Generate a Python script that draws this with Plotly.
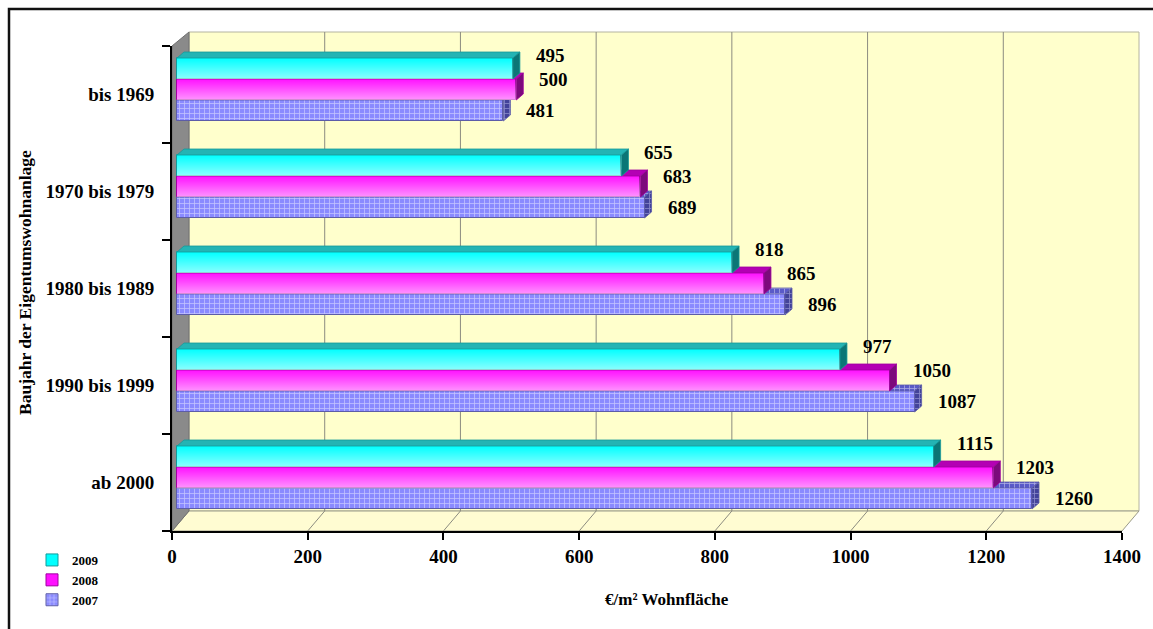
import plotly.graph_objects as go

# ---- data -------------------------------------------------------------
categories = ["ab 2000", "1990 bis 1999", "1980 bis 1989", "1970 bis 1979", "bis 1969"]
values_2007 = [1260, 1087, 896, 689, 481]
values_2008 = [1203, 1050, 865, 683, 500]
values_2009 = [1115, 977, 818, 655, 495]
x_ticks = [0, 200, 400, 600, 800, 1000, 1200, 1400]

# ---- geometry helpers (figure pixels <-> axis units) -------------------
FIG_W, FIG_H = 1153, 629
L, R, T, B = 172, 1122, 46, 531          # front plane of the plot area
W, H = R - L, B - T
X_MAX = 1400
UX = X_MAX / W                           # axis units per pixel (x)
UY = 5 / H                               # axis units per pixel (y)
DEPTH_X, DEPTH_Y = 17, 20                # wall/floor depth in pixels


def px(xp):
    return (xp - L) / W


def py(yp):
    return (B - yp) / H


def xpix(v):
    return L + v / UX


SERIF = "Liberation Serif"

# bar layout in pixels, relative to the band centre (positive = up)
BAR_H = 21
OFF = {"2009": 26, "2008": 5, "2007": -16}
LABEL_DY = {"2009": 13, "2008": 10, "2007": 0}
FRONT_SHIFT = 5                          # front face pushed back into the box
BAR_DX, BAR_DY = 7, 6                    # bar thickness in depth

series = [
    # name, values, axis, front colour, outline, top face, side face, sheen
    ("2007", values_2007, "y", "#8a8aff", "#5c5ca8", "#5a5ac8", "#43439a", False),
    ("2008", values_2008, "y2", "#ff10ff", "#a000a0", "#b400b4", "#7c0a7c", True),
    ("2009", values_2009, "y3", "#00ffff", "#159a9a", "#24b4b4", "#0b7676", True),
]
rank = {"2009": 1, "2008": 2, "2007": 3}

fig = go.Figure()
annotations = []

for name, vals, yax, col, edge, top_col, side_col, sheen in series:
    ox = FRONT_SHIFT * UX
    ddx, ddy = BAR_DX * UX, BAR_DY * UY
    h = BAR_H * UY
    centres = [i + OFF[name] * UY for i in range(len(categories))]

    pattern = None
    if name == "2007":
        pattern = dict(shape="+", fgcolor="white", bgcolor=col, size=5, solidity=0.28)

    # front faces
    fig.add_trace(go.Bar(
        name=name, y=centres, x=vals, base=ox, orientation="h", width=h,
        yaxis=yax, legendrank=rank[name],
        marker=dict(color=col, line=dict(color=edge, width=1),
                    pattern=pattern if pattern else dict(shape="")),
        hovertemplate="%{x}<extra>" + name + "</extra>",
    ))

    # light vertical sheen on the solid bars
    if sheen:
        for v, c in zip(vals, centres):
            yb, yt = c - h / 2, c + h / 2
            fig.add_trace(go.Scatter(
                x=[ox, ox + v, ox + v, ox, ox], y=[yb, yb, yt, yt, yb],
                yaxis=yax, mode="lines", line=dict(width=0), fill="toself",
                fillgradient=dict(type="vertical", colorscale=[
                    [0, "rgba(255,255,255,0.55)"], [1, "rgba(255,255,255,0)"]]),
                showlegend=False, hoverinfo="skip",
            ))

    # top and side faces of the extruded bars
    tx, ty, sx, sy = [], [], [], []
    for v, c in zip(vals, centres):
        yb, yt = c - h / 2, c + h / 2
        x1 = ox + v
        tx += [ox, x1, x1 + ddx, ox + ddx, ox, None]
        ty += [yt, yt, yt + ddy, yt + ddy, yt, None]
        sx += [x1, x1, x1 + ddx, x1 + ddx, x1, None]
        sy += [yb, yt, yt + ddy, yb + ddy, yb, None]
        annotations.append(dict(
            x=v + (FRONT_SHIFT + 21) * UX, y=c + LABEL_DY[name] * UY,
            xref="x", yref="y", text=str(v), showarrow=False, xanchor="left",
            yanchor="middle", font=dict(family=SERIF, size=19, color="black", weight="bold"),
        ))
    face_pattern = None
    if name == "2007":
        face_pattern = dict(shape="+", fgcolor="white", bgcolor=top_col, size=5, solidity=0.28)
    fig.add_trace(go.Scatter(
        x=tx, y=ty, yaxis=yax, mode="lines", fill="toself", fillcolor=top_col,
        fillpattern=face_pattern, line=dict(color=edge, width=0.8),
        showlegend=False, hoverinfo="skip"))
    if name == "2007":
        face_pattern = dict(shape="+", fgcolor="#d8d8ff", bgcolor=side_col, size=5, solidity=0.28)
    fig.add_trace(go.Scatter(
        x=sx, y=sy, yaxis=yax, mode="lines", fill="toself", fillcolor=side_col,
        fillpattern=face_pattern, line=dict(color=edge, width=0.8),
        showlegend=False, hoverinfo="skip"))

# ---- box: back wall, floor, left wall, gridlines ------------------------
shapes = []
wall_l, wall_r = L + DEPTH_X, R + DEPTH_X
wall_t, wall_b = 32, B - DEPTH_Y
shapes.append(dict(type="rect", xref="paper", yref="paper", layer="below",
                   x0=px(wall_l), x1=px(wall_r), y0=py(wall_b), y1=py(wall_t),
                   fillcolor="#ffffcc", line=dict(color="#b4b4a0", width=1)))
floor = "M{},{} L{},{} L{},{} L{},{} Z".format(
    px(L), py(B), px(R), py(B), px(wall_r), py(wall_b), px(wall_l), py(wall_b))
shapes.append(dict(type="path", path=floor, xref="paper", yref="paper", layer="below",
                   fillcolor="#fffcd2", line=dict(color="#9a9a8a", width=1)))
for t in x_ticks[1:-1]:
    xb = xpix(t) + DEPTH_X
    shapes.append(dict(type="line", xref="paper", yref="paper", layer="below",
                       x0=px(xb), x1=px(xb), y0=py(wall_b), y1=py(wall_t),
                       line=dict(color="#8c8c80", width=1)))
    shapes.append(dict(type="line", xref="paper", yref="paper", layer="below",
                       x0=px(xpix(t)), x1=px(xb), y0=py(B), y1=py(wall_b),
                       line=dict(color="#8c8c80", width=1)))
left_wall = "M{},{} L{},{} L{},{} L{},{} Z".format(
    px(L), py(T), px(wall_l), py(wall_t), px(wall_l), py(wall_b), px(L), py(B))
shapes.append(dict(type="path", path=left_wall, xref="paper", yref="paper", layer="below",
                   fillcolor="#8a8a8a", line=dict(color="#707070", width=1)))
# outer frame
shapes.append(dict(type="rect", xref="paper", yref="paper", layer="above",
                   x0=px(9), x1=px(1170), y0=py(645), y1=py(9),
                   line=dict(color="#111111", width=2.5)))

annotations.append(dict(
    x=px(25), y=py(283), xref="paper", yref="paper", text="Baujahr der Eigentumswohnanlage",
    textangle=-90, showarrow=False, xanchor="center", yanchor="middle",
    font=dict(family=SERIF, size=17.5, color="black", weight="bold")))
annotations.append(dict(
    x=px(667), y=py(599), xref="paper", yref="paper", text="€/m² Wohnfläche",
    showarrow=False, xanchor="center", yanchor="middle",
    font=dict(family=SERIF, size=17, color="black", weight="bold")))

y_range = [-0.5, 4.5]
tick_font = dict(family=SERIF, size=19, color="black", weight="bold")

fig.update_layout(
    width=FIG_W, height=FIG_H,
    margin=dict(l=L, r=FIG_W - R, t=T, b=FIG_H - B),
    paper_bgcolor="white", plot_bgcolor="rgba(0,0,0,0)",
    barmode="overlay", bargap=0,
    shapes=shapes, annotations=annotations,
    showlegend=True,
    legend=dict(x=px(32), y=py(545), xanchor="left", yanchor="top",
                font=dict(family=SERIF, size=13, color="black", weight="bold"),
                bgcolor="rgba(0,0,0,0)", itemwidth=30, tracegroupgap=0),
    xaxis=dict(range=[0, X_MAX], tickvals=x_ticks, ticks="outside", ticklen=7,
               tickwidth=1.5, tickcolor="black", showline=True, linecolor="black",
               linewidth=2, showgrid=False, zeroline=False, tickfont=tick_font),
    yaxis=dict(range=y_range, tickvals=list(range(len(categories))), ticktext=categories,
               ticks="", showline=True, linecolor="black", linewidth=2, showgrid=False,
               zeroline=False, tickfont=tick_font, ticklabelstandoff=12,
               minor=dict(tickvals=[i - 0.5 for i in range(len(categories) + 1)],
                          ticks="outside", ticklen=8, tickwidth=1.5, tickcolor="black",
                          showgrid=False)),
    yaxis2=dict(range=y_range, overlaying="y", visible=False),
    yaxis3=dict(range=y_range, overlaying="y", visible=False),
)

fig.write_html("out.html")
